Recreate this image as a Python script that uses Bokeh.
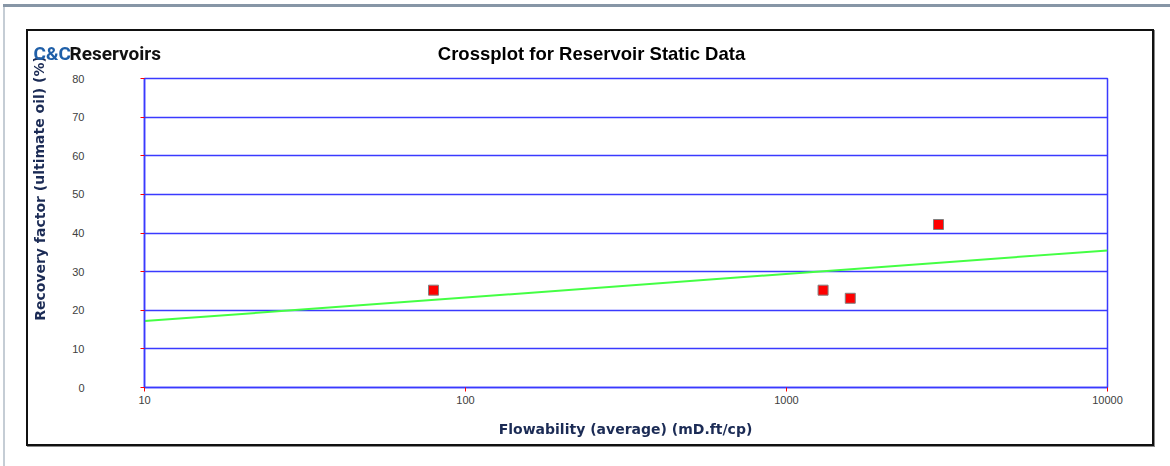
from bokeh.plotting import figure
from bokeh.models import FixedTicker, NumeralTickFormatter, Label
from bokeh.embed import file_html
from bokeh.resources import INLINE

# ---- data ----
flowability = [79.5, 1300, 1580, 2975]
recovery = [25.2, 25.2, 23.1, 42.2]
trend_x = [10, 10000]
trend_y = [17.2, 35.5]
x_ticks = [10, 100, 1000, 10000]
y_ticks = [0, 10, 20, 30, 40, 50, 60, 70, 80]

title_text = "Crossplot for Reservoir Static Data"
x_label = "Flowability (average) (mD.ft/cp)"
y_label = "Recovery factor (ultimate oil) (%)"
logo_a = "C&C"
logo_b = "Reservoirs"

BLUE = "#3A3AFF"
NAVY = "#1B2B55"
W, H = 1124, 413

chart_css = {
    "transform": "translate(28px, 31px)",
    "box-shadow": ("0 0 0 2px #111, 1px 1px 0 2px #8a8a8a, "
                   "277px 276px 0 300px #ffffff, "
                   "275px 276px 0 300px #c5cdd5, "
                   "275px 273px 0 300px #8796a6"),
}

# ---------- chart ----------
p = figure(width=W, height=H, x_axis_type="log",
           x_range=(10, 10000), y_range=(0, 80),
           output_backend="svg", toolbar_location=None,
           min_border_left=116, min_border_right=45,
           min_border_top=47, min_border_bottom=57,
           styles=chart_css)
p.title.visible = False
p.background_fill_color = "white"
p.border_fill_color = "white"
p.outline_line_color = BLUE
p.outline_line_width = 1.5

p.xgrid.visible = False
p.ygrid.grid_line_color = BLUE
p.ygrid.grid_line_width = 1.5

p.xaxis.ticker = FixedTicker(ticks=x_ticks)
p.xaxis.formatter = NumeralTickFormatter(format="0")
p.yaxis.ticker = FixedTicker(ticks=y_ticks)
for ax in (p.xaxis, p.yaxis):
    ax.axis_line_color = BLUE
    ax.axis_line_width = 1.5
    ax.major_tick_line_color = "red"
    ax.major_tick_out = 4
    ax.major_tick_in = 0
    ax.minor_tick_line_color = None
    ax.major_label_text_font = "Liberation Sans"
    ax.major_label_text_font_size = "11px"
    ax.major_label_text_color = "#404040"
p.xaxis.major_label_text_align = "left"
p.xaxis.major_label_standoff = 4
p.yaxis.major_label_standoff = 56
p.yaxis.major_label_text_baseline = "bottom"

p.line(trend_x, trend_y, line_color="#44FF44", line_width=2)
p.scatter(flowability, recovery, marker="square", size=10,
          fill_color="#FF0000", line_color="#808080", line_width=1)

# ---------- transparent text layer, a separate root fixed over the chart ----------
t = figure(width=W, height=H, x_range=(0, W), y_range=(0, H),
           x_axis_location=None, y_axis_location=None,
           output_backend="svg", toolbar_location=None,
           min_border=0, min_border_left=0, min_border_right=0,
           min_border_top=0, min_border_bottom=0,
           styles={"position": "fixed", "left": "28px", "top": "31px"})
t.title.visible = False
t.outline_line_color = None
t.background_fill_alpha = 0
t.border_fill_alpha = 0
t.xgrid.visible = False
t.ygrid.visible = False

def add_text(**kw):
    t.add_layout(Label(x_units="screen", y_units="screen", **kw))

add_text(x=563, y=391, text=title_text, text_align="center", text_baseline="middle",
         text_font="Liberation Sans", text_font_style="bold",
         text_font_size="18.5px", text_color="black")
add_text(x=597, y=16, text=x_label, text_align="center", text_baseline="middle",
         text_font="DejaVu Sans", text_font_style="bold",
         text_font_size="14px", text_color=NAVY)
add_text(x=11, y=256, text=y_label, text_align="center", text_baseline="middle",
         angle=1.5708, text_font="DejaVu Sans", text_font_style="bold",
         text_font_size="14px", text_color=NAVY)
add_text(x=5, y=391, text=logo_a, text_align="left", text_baseline="middle",
         text_font="Roboto", text_font_style="bold",
         text_font_size="19px", text_color="#1F5FA8")
add_text(x=41, y=391, text=logo_b, text_align="left", text_baseline="middle",
         text_font="Roboto", text_font_style="bold",
         text_font_size="19px", text_color="#111111")

open("out.html", "w").write(file_html([p, t], INLINE))
